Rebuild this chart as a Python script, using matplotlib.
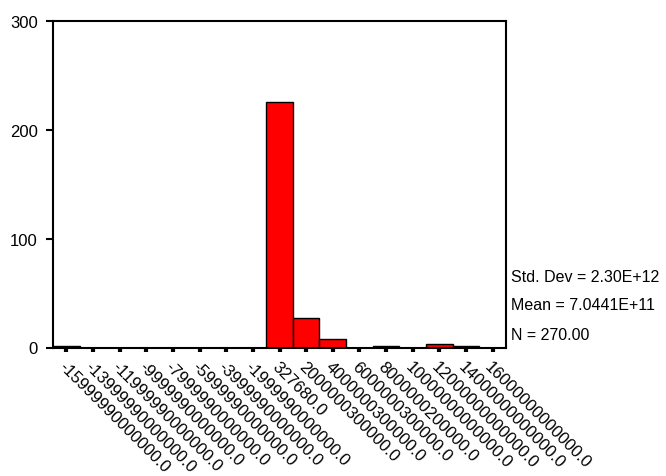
import matplotlib

matplotlib.use("Agg")
import matplotlib.pyplot as plt
import matplotlib.transforms as mtransforms
import numpy as np

bin_labels = [
    "-15999990000000.0", "-13999990000000.0", "-11999990000000.0",
    "-9999990000000.0", "-7999990000000.0", "-5999990000000.0",
    "-3999990000000.0", "-1999990000000.0", "327680.0",
    "2000000300000.0", "4000000300000.0", "6000000300000.0",
    "8000000200000.0", "10000000000000.0", "12000000000000.0",
    "14000000000000.0", "16000000000000.0",
]
counts = [1, 0, 0, 0, 0, 0, 0, 0, 226, 27, 8, 0, 1, 0, 3, 1, 0]
y_ticks = [0, 100, 200, 300]
stats = ["Std. Dev = 2.30E+12", "Mean = 7.0441E+11", "N = 270.00"]

plt.rcParams["font.family"] = ["Liberation Sans", "DejaVu Sans"]

fig = plt.figure(figsize=(6.66, 4.77), dpi=100, facecolor="white")
ax = fig.add_axes([53 / 666, 128.5 / 477, 453 / 666, 326.5 / 477])

x = np.arange(len(counts))
ax.bar(x, counts, width=1.0, color="#ff0000", edgecolor="black", linewidth=1.0)

ax.set_xlim(-0.5, len(counts) - 0.5)
ax.set_ylim(0, 300)
ax.set_yticks(y_ticks)
ax.set_yticklabels([str(v) for v in y_ticks], fontsize=12)
ax.set_xticks(x)
ax.set_xticklabels(bin_labels, fontsize=12, rotation=-45, ha="left", va="top",
                   rotation_mode="anchor")
shift = mtransforms.ScaledTranslation(7 / 100, -1 / 100, fig.dpi_scale_trans)
for lab in ax.get_xticklabels():
    lab.set_transform(lab.get_transform() + shift)
ax.tick_params(axis="y", length=5, width=1.5, pad=6)
ax.tick_params(axis="x", length=3, width=3, pad=5)
for sp in ax.spines.values():
    sp.set_linewidth(1.5)

for i, s in enumerate(stats):
    fig.text(511 / 666, 1 - (277 + 29 * i) / 477, s, fontsize=11.5, va="center", ha="left")

fig.savefig("out.png", dpi=100, facecolor="white")
